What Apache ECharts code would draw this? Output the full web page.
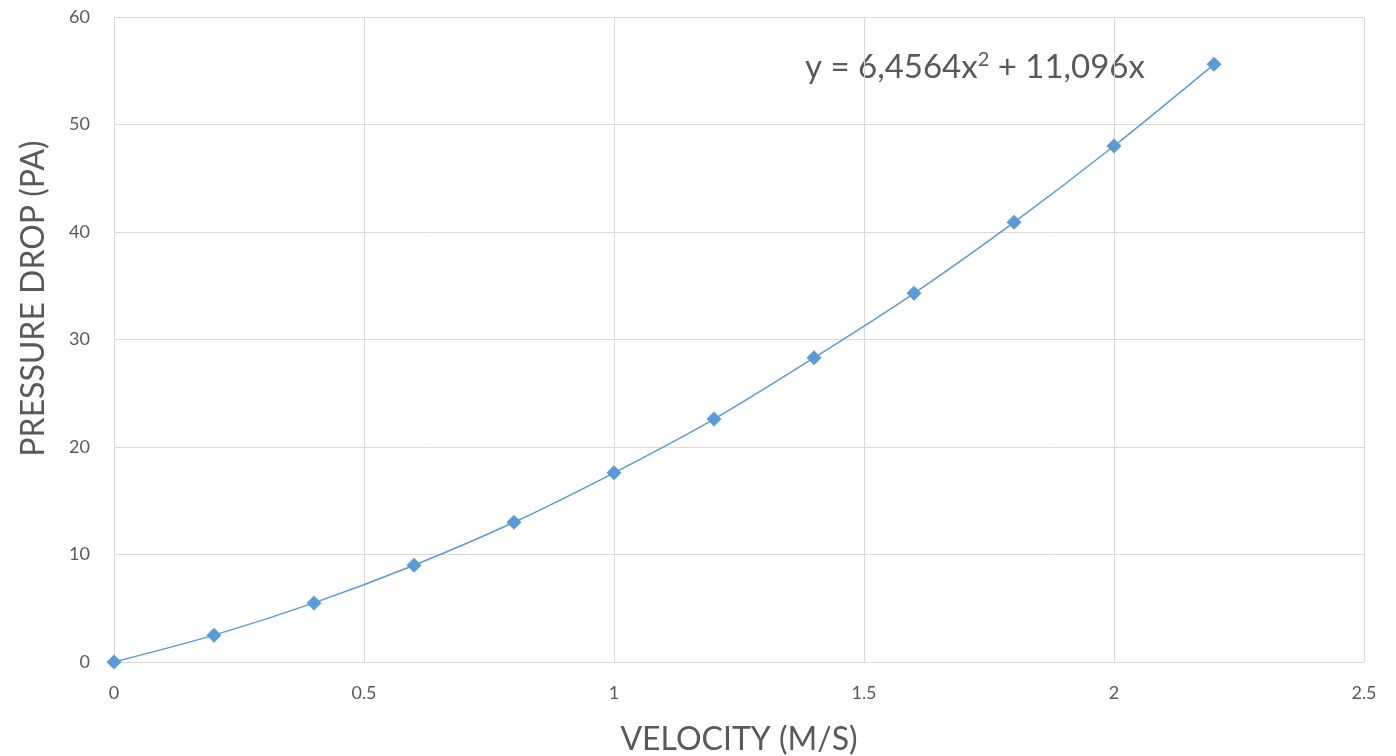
<!DOCTYPE html>
<html>
<head>
<meta charset="utf-8">
<script src="https://cdn.jsdelivr.net/npm/echarts@6/dist/echarts.min.js"></script>
<style>html,body{margin:0;padding:0;background:#fff;}#c{width:1396px;height:756px;}</style>
</head>
<body>
<div id="c"></div>
<script>
var velocity = [0, 0.2, 0.4, 0.6, 0.8, 1.0, 1.2, 1.4, 1.6, 1.8, 2.0, 2.2];
var pressureDrop = [0, 2.5, 5.5, 9.0, 13.0, 17.6, 22.6, 28.3, 34.3, 40.9, 48.0, 55.6];
var equationText = 'y = 6,4564x{sup|2} + 11,096x';
var xTitle = 'VELOCITY (M/S)';
var yTitle = 'PRESSURE DROP (PA)';

var points = velocity.map(function (v, i) { return [v, pressureDrop[i]]; });
var font = 'Lato, "Open Sans", sans-serif';
var chart = echarts.init(document.getElementById('c'), null, {renderer: 'canvas'});
chart.setOption({
  animation: false,
  textStyle: {fontFamily: font},
  grid: {left: 114, right: 32, top: 17, bottom: 94, containLabel: false, outerBoundsMode: 'none'},
  xAxis: {
    type: 'value', min: 0, max: 2.5, interval: 0.5,
    name: xTitle, nameLocation: 'middle', nameGap: 62,
    nameTextStyle: {fontSize: 32, color: '#595959', fontFamily: font},
    axisLine: {show: true, lineStyle: {color: '#d9d9d9', width: 1}},
    axisTick: {show: false},
    axisLabel: {fontSize: 18, color: '#595959', margin: 22},
    splitLine: {show: true, lineStyle: {color: '#d9d9d9', width: 1}}
  },
  yAxis: {
    type: 'value', min: 0, max: 60, interval: 10,
    name: yTitle, nameLocation: 'middle', nameGap: 64,
    nameTextStyle: {fontSize: 32, color: '#595959', fontFamily: font, padding: [0, 0, 0, 82]},
    axisLine: {show: true, lineStyle: {color: '#d9d9d9', width: 1}},
    axisTick: {show: false},
    axisLabel: {fontSize: 18, color: '#595959', margin: 24},
    splitLine: {show: true, lineStyle: {color: '#d9d9d9', width: 1}}
  },
  graphic: [{
    type: 'text', left: 805, top: 50,
    style: {
      text: equationText,
      font: '33px ' + font,
      fill: '#595959',
      rich: {sup: {fontSize: 20, verticalAlign: 'top', padding: [0,0,14,0], fill: '#595959', fontFamily: font}}
    }
  }],
  series: [{
    type: 'line',
    data: points,
    smooth: 0.3,
    symbol: 'diamond',
    symbolSize: 15,
    itemStyle: {color: '#5b9bd5'},
    lineStyle: {color: '#5b9bd5', width: 1.5}
  }]
});
</script>
</body>
</html>
